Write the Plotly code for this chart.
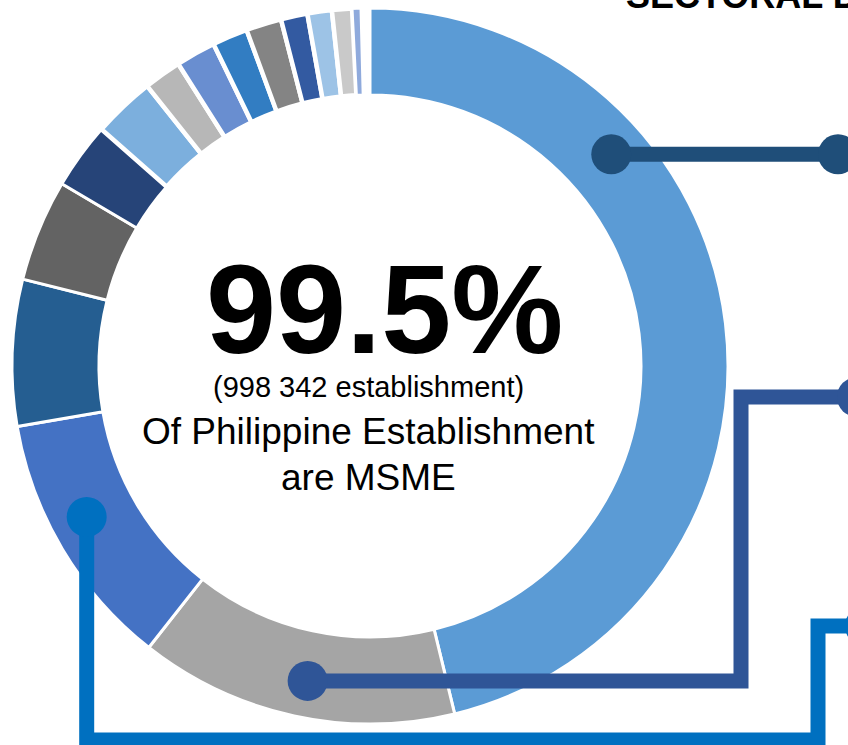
import math
import plotly.graph_objects as go

# ---------------- data ----------------
sectors = [
    "Wholesale and retail trade", "Accommodation and food service", "Manufacturing",
    "Other service activities", "Financial and insurance", "Education",
    "Human health and social work", "Administrative and support",
    "Professional, scientific and technical", "Information and communication",
    "Real estate", "Arts, entertainment and recreation", "Transportation and storage",
    "Agriculture, forestry and fishing", "Construction", "Others",
]
shares = [46.2, 14.4, 11.7, 6.6, 4.6, 3.0, 2.8, 1.7, 1.8, 1.6, 1.6, 1.2, 1.1, 0.9, 0.4, 0.4]
colors = [
    "#5B9BD5", "#A5A5A5", "#4472C4", "#255E91", "#636363", "#264478", "#7CAFDD",
    "#B7B7B7", "#698ED0", "#327DC2", "#848484", "#335AA1", "#9DC3E6", "#C9C9C9",
    "#8FAADC", "#FFFFFF",
]
gap_widths = [3, 3, 3, 3, 3, 3, 4.5, 4.5, 4.5, 4.5, 4.5, 4.5, 4.5, 4.5, 3, 0]

headline = "99.5%"
subline = "(998 342 establishment)"
caption = ["Of Philippine Establishment", "are MSME"]
title_text = "SECTORAL DISTRIBUTION"

# ---------------- layout geometry (pixels) ----------------
W, H = 848, 745
cx, cy = 370, 366          # donut centre
r_out = 358
hole = 0.757
font = "Liberation Sans, Arial, Helvetica, sans-serif"

dom_x = [(cx - r_out) / W, (cx + r_out) / W]
dom_y = [(H - cy - r_out) / H, (H - cy + r_out) / H]

fig = go.Figure()
# invisible trace so the pixel-space axes exist for callouts/text
fig.add_trace(go.Scatter(x=[0, W], y=[0, H], mode="markers",
                         marker=dict(opacity=0), hoverinfo="skip", showlegend=False))
fig.add_trace(go.Pie(
    labels=sectors, values=shares, sort=False, direction="clockwise", rotation=0,
    hole=hole, textinfo="none", hoverinfo="label+percent", showlegend=False,
    marker=dict(colors=colors, line=dict(color="white", width=gap_widths)),
    domain=dict(x=dom_x, y=dom_y),
))

# ---------------- callouts anchored on slices ----------------
total = sum(shares)
starts = []
acc = 0
for v in shares:
    starts.append(acc / total * 360)
    acc += v


def anchor(i, frac, r=321):
    ang = math.radians(starts[i] + frac * shares[i] / total * 360)
    return cx + r * math.sin(ang), cy - r * math.cos(ang)


lw = 15
dot_r = 20
shapes = []

(x1, y1) = anchor(0, 0.293)
(x2, y2) = anchor(1, 0.48)
(x3, y3) = anchor(2, 0.565)

routes = [
    ([(x1, y1), (838, y1)], (838, y1), "#1F4E79"),
    ([(x2, y2), (741, y2), (741, 397), (857, 397)], (857, 397), "#2F5597"),
    ([(x3, y3), (x3, 740), (818, 740), (818, 626), (865, 626)], (865, 626), "#0070C0"),
]
for pts, end, col in routes:
    path = "M " + " L ".join(f"{px:.1f},{py:.1f}" for px, py in pts)
    shapes.append(dict(type="path", xref="x", yref="y", path=path, layer="above",
                       line=dict(color=col, width=lw)))
    for (px, py) in (pts[0], end):
        shapes.append(dict(type="circle", xref="x", yref="y", layer="above",
                           x0=px - dot_r, x1=px + dot_r, y0=py - dot_r, y1=py + dot_r,
                           fillcolor=col, line=dict(width=0)))

annotations = [
    dict(text=f"<b>{headline}</b>", x=384, y=309, font=dict(size=126, color="black", family=font)),
    dict(text=subline, x=368, y=387, font=dict(size=29, color="black", family=font)),
    dict(text=caption[0], x=368, y=431, font=dict(size=37, color="black", family=font)),
    dict(text=caption[1], x=368, y=477, font=dict(size=37, color="black", family=font)),
]
for a in annotations:
    a.update(xref="x", yref="y", showarrow=False, xanchor="center", yanchor="middle")

annotations.append(dict(text=f"<b>{title_text}</b>", xref="paper", yref="paper",
                        x=624 / W, y=1 + 4.5 / H, xanchor="left", yanchor="middle",
                        showarrow=False, font=dict(size=36, color="black", family=font)))

fig.update_layout(
    width=W, height=H, margin=dict(l=0, r=0, t=0, b=0),
    paper_bgcolor="white", plot_bgcolor="white",
    xaxis=dict(range=[0, W], visible=False, fixedrange=True),
    yaxis=dict(range=[H, 0], visible=False, fixedrange=True),
    shapes=shapes, annotations=annotations, showlegend=False,
    font=dict(family=font),
)

fig.write_html("out.html", config={"displayModeBar": False},
               post_script="document.body.style.margin='0px';")
